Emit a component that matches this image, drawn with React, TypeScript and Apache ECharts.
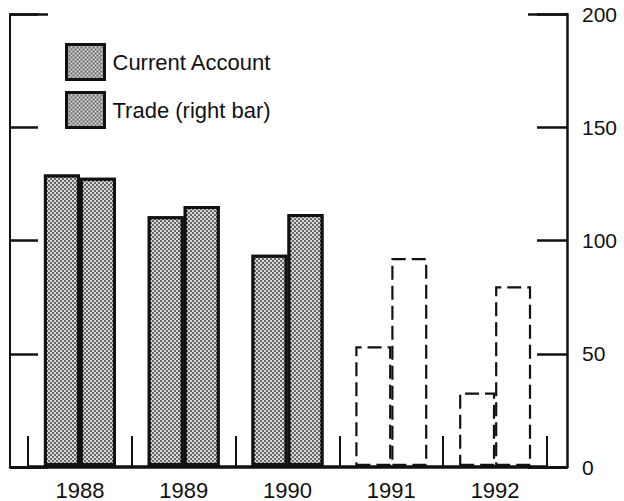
import React, { useEffect, useRef } from "react";
import * as echarts from "echarts";

const categories = ["1988", "1989", "1990", "1991", "1992"];
const currentAccount = [129, 110.5, 93.5, 53, 32.5];
const trade = [127.5, 115, 111.5, 92, 79.5];
const forecastFrom = 3; // 1991 and 1992 are drawn dashed/unfilled
const yTicks = [0, 50, 100, 150, 200];

const FONT = "'Liberation Sans', Arial, Helvetica, sans-serif";

const decal = {
  color: "rgba(255,255,255,0.75)",
  symbol: "rect",
  symbolSize: 1,
  dashArrayX: [
    [2, 2],
    [0, 2, 2, 0],
  ],
  dashArrayY: [2, 0],
  rotation: 0,
};

function buildData(values: number[]) {
  return values.map((v, i) =>
    i >= forecastFrom
      ? {
          value: v,
          itemStyle: {
            color: "#ffffff",
            decal: "none",
            borderType: [14, 6],
            borderWidth: 2.2,
            borderColor: "#111",
          },
        }
      : v
  );
}

export default function App() {
  const ref = useRef<HTMLDivElement>(null);
  useEffect(() => {
    if (!ref.current) return;
    const chart = echarts.init(ref.current, null, { renderer: "svg" });
    const yMax = yTicks[yTicks.length - 1];
    const yInterval = yTicks[1] - yTicks[0];
    const axisLineStyle = { color: "#111", width: 2.5 };
    chart.setOption({
      animation: false,
      backgroundColor: "#ffffff",
      textStyle: { fontFamily: FONT },
      legend: {
        orient: "vertical",
        left: 65,
        top: 43,
        padding: 0,
        itemWidth: 38,
        itemHeight: 35,
        itemGap: 10,
        icon: "rect",
        itemStyle: { borderWidth: 3, borderColor: "#111" },
        textStyle: { fontSize: 22, color: "#111", fontFamily: FONT, padding: [0, 0, 0, 3] },
        data: ["Current Account", "Trade (right bar)"],
      },
      grid: [
        { left: 28, right: 77, top: 14, bottom: 34 },
        { left: 10, right: 57, top: 14, bottom: 34 },
      ],
      xAxis: [
        {
          type: "category",
          gridIndex: 0,
          data: categories,
          boundaryGap: true,
          axisLine: { show: true, lineStyle: axisLineStyle },
          axisTick: { show: true, inside: true, length: 30, alignWithLabel: false, lineStyle: { color: "#111", width: 2 } },
          axisLabel: { fontSize: 22, color: "#111", margin: 13, fontFamily: FONT },
          splitLine: { show: false },
        },
        {
          type: "value",
          gridIndex: 1,
          min: 0,
          max: 1,
          axisLine: { show: true, onZero: false, lineStyle: axisLineStyle },
          axisTick: { show: false },
          axisLabel: { show: false },
          splitLine: { show: false },
        },
      ],
      yAxis: [
        {
          type: "value",
          gridIndex: 0,
          min: 0,
          max: yMax,
          interval: yInterval,
          show: false,
        },
        {
          type: "value",
          gridIndex: 1,
          position: "left",
          min: 0,
          max: yMax,
          interval: yInterval,
          axisLine: { show: true, lineStyle: { color: "#111", width: 2 } },
          axisTick: { show: true, inside: true, length: 28, lineStyle: { color: "#111", width: 2.5 } },
          axisLabel: { show: false },
          splitLine: { show: false },
        },
        {
          type: "value",
          gridIndex: 1,
          position: "right",
          min: 0,
          max: yMax,
          interval: yInterval,
          axisLine: { show: true, lineStyle: axisLineStyle },
          axisTick: { show: true, inside: true, length: 30, lineStyle: { color: "#111", width: 2.5 } },
          axisLabel: { show: true, fontSize: 21, color: "#111", margin: 15, fontFamily: FONT },
          splitLine: { show: false },
        },
        {
          type: "value",
          gridIndex: 1,
          position: "left",
          min: 0,
          max: yMax,
          interval: yMax,
          axisLine: { show: false },
          axisTick: { show: true, inside: true, length: 38, lineStyle: { color: "#111", width: 2.5 } },
          axisLabel: { show: false },
          splitLine: { show: false },
        },
        {
          type: "value",
          gridIndex: 1,
          position: "right",
          min: 0,
          max: yMax,
          interval: yMax,
          axisLine: { show: false },
          axisTick: { show: true, inside: true, length: 39, lineStyle: { color: "#111", width: 2.5 } },
          axisLabel: { show: false },
          splitLine: { show: false },
        },
      ],
      series: [
        {
          name: "Current Account",
          type: "bar",
          xAxisIndex: 0,
          yAxisIndex: 0,
          barWidth: 36,
          barGap: "0%",
          itemStyle: { color: "#666666", borderColor: "#111", borderWidth: 3, decal },
          data: buildData(currentAccount),
        },
        {
          name: "Trade (right bar)",
          type: "bar",
          xAxisIndex: 0,
          yAxisIndex: 0,
          barWidth: 36,
          barGap: "0%",
          itemStyle: { color: "#666666", borderColor: "#111", borderWidth: 3, decal },
          data: buildData(trade),
        },
      ],
    });
    return () => chart.dispose();
  }, []);
  return (
    <div
      ref={ref}
      style={{ position: "fixed", left: 0, top: 0, width: 624, height: 501 }}
    />
  );
}
